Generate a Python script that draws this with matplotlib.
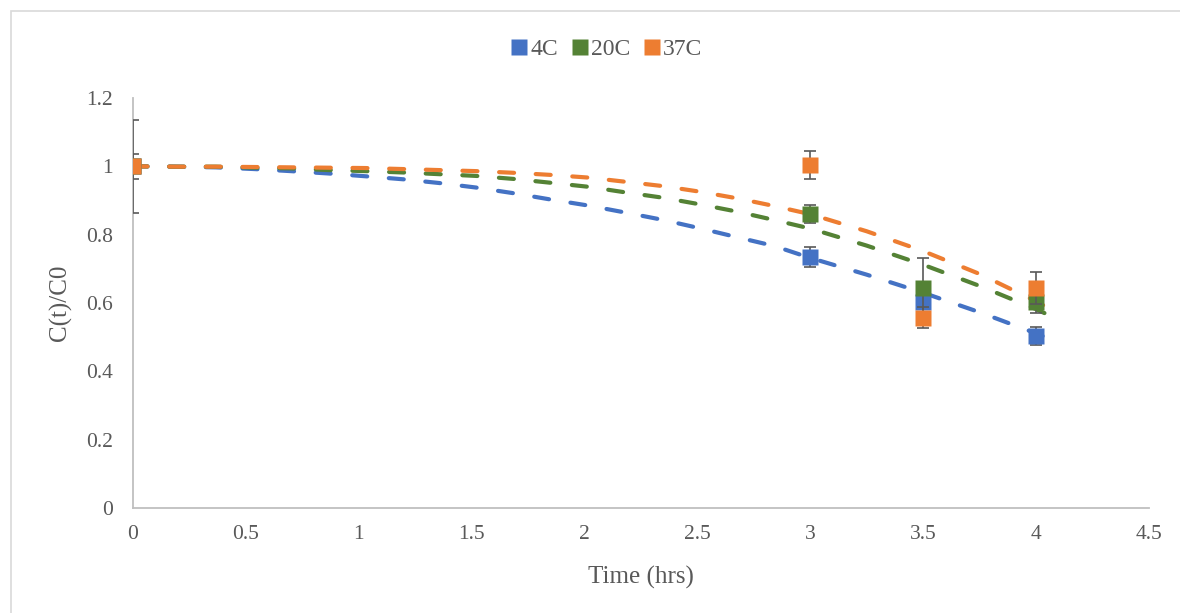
import matplotlib.pyplot as plt
from matplotlib.patches import Rectangle
from matplotlib.lines import Line2D

time_hrs = [0, 3, 3.5, 4]
series_names = ["4C", "20C", "37C"]
ratio_4c = [1.0, 0.735, 0.604, 0.504]
ratio_20c = [1.0, 0.861, 0.645, 0.602]
ratio_37c = [1.0, 1.004, 0.557, 0.645]
err_4c = [0.037, 0.030, 0.020, 0.027]
err_20c = [0.137, 0.027, 0.086, 0.030]
err_37c = [0.0, 0.041, 0.030, 0.047]

# dashed trend curves
curve_t = [0, 0.20, 0.37, 0.54, 0.70, 0.87, 1.03, 1.20, 1.36, 1.52, 1.69, 1.85,
           2.02, 2.18, 2.35, 2.51, 2.68, 2.84, 3.0, 3.25, 3.5, 3.75, 4.0, 4.11]
curve_4c = [1.0, 0.999, 0.997, 0.992, 0.986, 0.979, 0.971, 0.962, 0.951, 0.938, 0.921, 0.903,
            0.885, 0.865, 0.843, 0.819, 0.792, 0.767, 0.732, 0.683, 0.630, 0.573, 0.511, 0.482]
curve_20c = [1.0, 0.999, 0.999, 0.996, 0.994, 0.989, 0.986, 0.982, 0.977, 0.972, 0.963, 0.952,
             0.940, 0.924, 0.908, 0.889, 0.867, 0.843, 0.818, 0.768, 0.712, 0.650, 0.582, 0.548]
curve_37c = [1.0, 0.999, 0.999, 0.998, 0.997, 0.996, 0.995, 0.992, 0.989, 0.986, 0.981, 0.975,
             0.967, 0.955, 0.942, 0.926, 0.906, 0.884, 0.860, 0.810, 0.752, 0.685, 0.605, 0.565]

x_ticks = [0, 0.5, 1, 1.5, 2, 2.5, 3, 3.5, 4, 4.5]
y_ticks = [0, 0.2, 0.4, 0.6, 0.8, 1, 1.2]

colors = ["#4472C4", "#548235", "#ED7D31"]
text_col = "#595959"

plt.rcParams["font.family"] = ["Liberation Serif", "DejaVu Serif"]

fig = plt.figure(figsize=(11.8, 6.13), dpi=100)
ax = fig.add_axes([132.5 / 1180, 1 - 508 / 613, (1149 - 132.5) / 1180, (508 - 98) / 613])

# chart area border, only left and top edges fall inside the image
fig.patches.append(Rectangle((11 / 1180, -0.1), 1.2, 602 / 613 + 0.1,
                             transform=fig.transFigure, fill=False,
                             edgecolor="#D9D9D9", linewidth=1.2))

all_vals = [ratio_4c, ratio_20c, ratio_37c]
all_errs = [err_4c, err_20c, err_37c]
all_curves = [curve_4c, curve_20c, curve_37c]

for i in range(3):
    ln, = ax.plot(curve_t, all_curves[i], color=colors[i], lw=3.0,
                  dash_capstyle="round", zorder=2 + i * 0.1)
    ln.set_dashes((3.6, 5.2))
    ax.errorbar(time_hrs, all_vals[i], yerr=all_errs[i], fmt="none", ecolor="#595959",
                elinewidth=1.2, capsize=4.3, capthick=1.2, zorder=3 + i * 0.1)
    ax.plot(time_hrs, all_vals[i], "s", color=colors[i], ms=11, mec="none",
            zorder=3.05 + i * 0.1)

ax.set_xlim(0, 4.5)
ax.set_ylim(0, 1.2)
ax.set_xticks(x_ticks)
ax.set_xticklabels([f"{v:g}" for v in x_ticks])
ax.set_yticks(y_ticks)
ax.set_yticklabels([f"{v:g}" for v in y_ticks])
ax.tick_params(length=0, labelsize=15.5, colors=text_col)
ax.tick_params(axis="y", pad=14)
ax.tick_params(axis="x", pad=12)
for s in ["top", "right"]:
    ax.spines[s].set_visible(False)
for s in ["left", "bottom"]:
    ax.spines[s].set_color("#BFBFBF")
    ax.spines[s].set_linewidth(1.3)

ax.set_xlabel("Time (hrs)", fontsize=18, color=text_col, labelpad=16)
ax.set_ylabel("C(t)/C0", fontsize=18, color=text_col, labelpad=10)

handles = [Line2D([], [], marker="s", ls="none", color=c, ms=11, mec="none")
           for c in colors]
fig.legend(handles, series_names, loc="center", bbox_to_anchor=(607 / 1180, 1 - 49 / 613),
           ncol=3, frameon=False, fontsize=17, labelcolor=text_col,
           handletextpad=0.15, columnspacing=0.6, handlelength=0.65)

fig.savefig("out.png", dpi=100)
